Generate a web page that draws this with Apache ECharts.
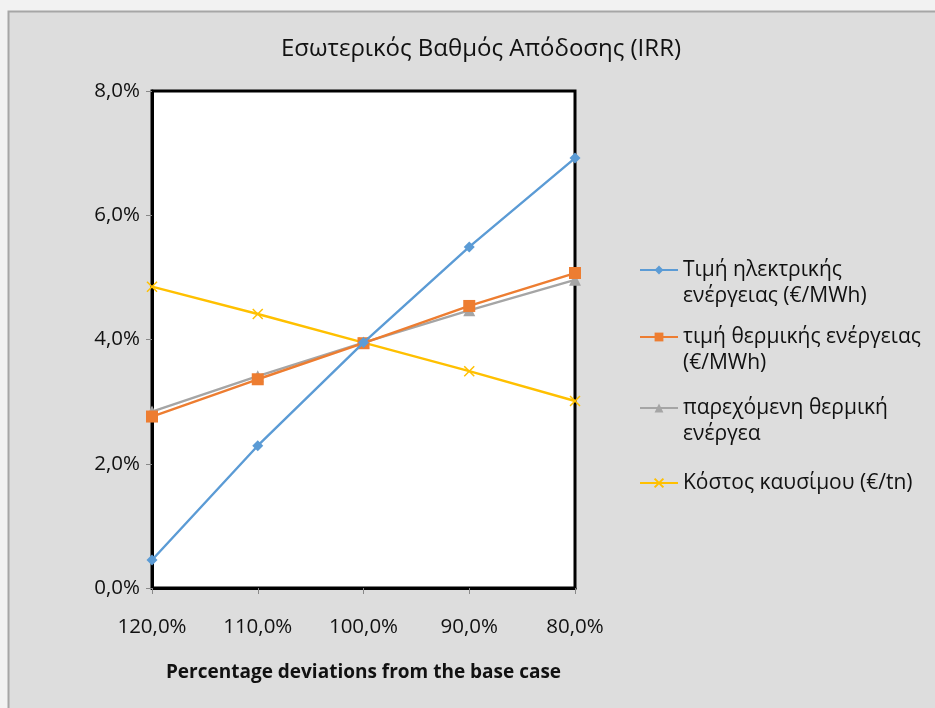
<!DOCTYPE html>
<html><head><meta charset="utf-8">
<script src="https://cdn.jsdelivr.net/npm/echarts@6/dist/echarts.min.js"></script>
<style>html,body{margin:0;padding:0;background:#f2f2f2;}#c{width:935px;height:708px;}</style>
</head><body><div id="c"></div>
<script>
var categories = ['120,0%', '110,0%', '100,0%', '90,0%', '80,0%'];
var electricPrice = [0.45, 2.29, 3.95, 5.49, 6.92];
var thermalPrice = [2.76, 3.36, 3.94, 4.54, 5.07];
var thermalSupplied = [2.84, 3.41, 3.95, 4.47, 4.96];
var fuelCost = [4.85, 4.41, 3.95, 3.49, 3.01];
var yTicks = [0, 2, 4, 6, 8];
var seriesNames = ['Τιμή ηλεκτρικής\nενέργειας (€/MWh)', 'τιμή θερμικής ενέργειας\n(€/MWh)', 'παρεχόμενη θερμική\nενέργεα', 'Κόστος καυσίμου (€/tn)'];

var FONT = 'Open Sans';
var colors = ['#5b9bd5', '#ed7d31', '#a5a5a5', '#ffc000'];
var symbols = ['diamond', 'rect', 'triangle', 'path://M0,0L10,10M10,0L0,10'];
var sizes = [11, 12, 12, 10];
var datas = [electricPrice, thermalPrice, thermalSupplied, fuelCost];
var legendIconY = [270, 337, 408, 483];
var LH = 26;

var series = datas.map(function (d, i) {
  return {
    name: seriesNames[i], type: 'line', data: d,
    symbol: symbols[i], symbolSize: sizes[i],
    lineStyle: { color: colors[i], width: 2.4 },
    itemStyle: i === 3 ? { color: 'rgba(0,0,0,0)', borderColor: colors[i], borderWidth: 1.5 } : { color: colors[i] },
    z: 10 - i
  };
});

var legends = seriesNames.map(function (n, i) {
  var twoLine = n.indexOf('\n') >= 0;
  return {
    data: [n], left: 639, top: legendIconY[i] - (twoLine ? 1.5 * LH : 0.5 * LH),
    padding: 0, itemWidth: 38, itemHeight: 11, itemGap: 0,
    formatter: function (name) { return name.indexOf('\n') >= 0 ? ' \n' + name : name; },
    textStyle: { fontFamily: FONT, fontSize: 21, color: '#111', lineHeight: LH },
    inactiveColor: '#111'
  };
});

var chart = echarts.init(document.getElementById('c'));
chart.setOption({
  animation: false,
  backgroundColor: '#f2f2f2',
  graphic: [{
    type: 'rect', shape: { x: 8.5, y: 11.5, width: 940, height: 720 },
    style: { fill: '#dddddd', stroke: '#a6a6a6', lineWidth: 2 }, z: -10, silent: true
  }],
  title: {
    text: 'Εσωτερικός Βαθμός Απόδοσης (IRR)', left: 476, top: 32, textAlign: 'center',
    textStyle: { fontFamily: FONT, fontSize: 24, fontWeight: 'normal', color: '#111' }
  },
  legend: legends,
  grid: {
    left: 152, right: 360, top: 91, bottom: 120, show: true,
    backgroundColor: '#ffffff', borderColor: '#000', borderWidth: 3
  },
  xAxis: {
    type: 'category', data: categories, boundaryGap: false,
    name: 'Percentage deviations from the base case', nameLocation: 'middle', nameGap: 75,
    nameTextStyle: { fontFamily: FONT, fontSize: 19, fontWeight: 'bold', color: '#111' },
    axisLine: { lineStyle: { color: '#000', width: 3 } },
    axisTick: { show: true, length: 6, lineStyle: { color: '#888', width: 1 } },
    axisLabel: { fontFamily: FONT, fontSize: 20.5, color: '#111', margin: 29 },
    splitLine: { show: false }
  },
  yAxis: {
    type: 'value', min: 0, max: 8, interval: 2,
    axisLine: { show: true, lineStyle: { color: '#000', width: 3 } },
    axisTick: { show: true, length: 6, lineStyle: { color: '#888', width: 1 } },
    axisLabel: { fontFamily: FONT, fontSize: 20.5, color: '#111', margin: 12,
      formatter: function (v) { return v.toFixed(1).replace('.', ',') + '%'; } },
    splitLine: { show: false }
  },
  series: series
});
</script></body></html>
